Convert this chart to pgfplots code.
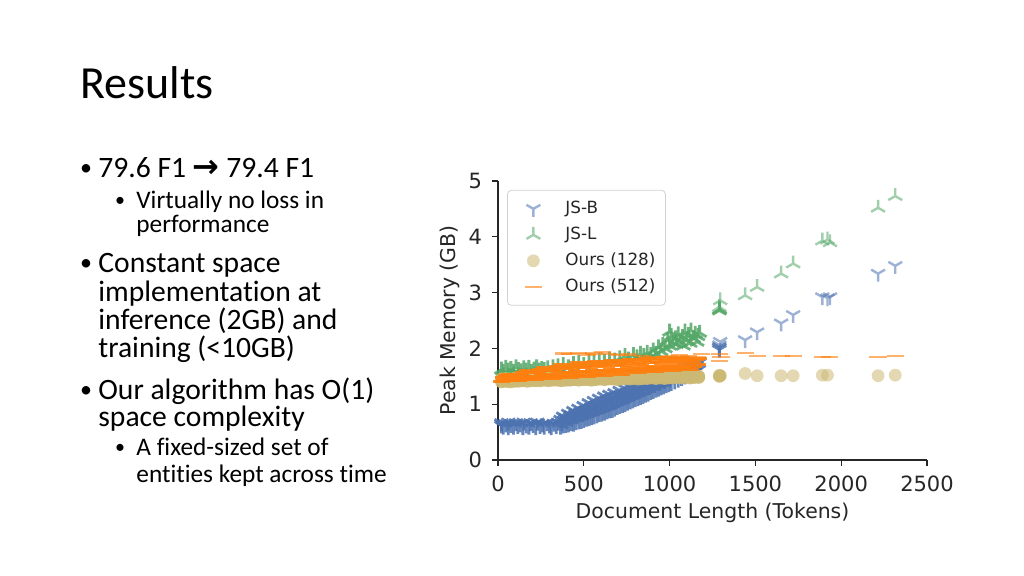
\documentclass[border=0pt]{standalone}
\usepackage{fontspec}
\setmainfont{Carlito}[Ligatures=NoCommon]
\newfontfamily\dejavu{DejaVu Sans}
\usepackage{pgfplots}
\pgfplotsset{compat=1.18}
\usetikzlibrary{plotmarks}

\definecolor{sbblue}{HTML}{4C72B0}
\definecolor{sbgreen}{HTML}{55A868}
\definecolor{sbtan}{HTML}{CCB974}
\definecolor{sborange}{HTML}{FF7F0E}
\definecolor{spine}{HTML}{262626}

\pgfplotsset{legimg/.style={legend image code/.code={%
    \path[draw=none,fill=none] (0pt,-3pt) rectangle (24pt,3pt);
    \draw[##1] plot coordinates {(10pt,0pt)};}}}

\begin{document}
\begin{tikzpicture}[x=1pt,y=1pt]
\fill[white] (0,0) rectangle (512,-288);

% slide text (1px = 0.5pt)
\node[anchor=base west,inner sep=0,font=\fontsize{23}{28}\selectfont] at (40,-49.5) {Results};

\begin{scope}[every node/.style={inner sep=0,font=\fontsize{14.8}{17}\selectfont}]
\node[anchor=base west] at (49,-89) {79.6 F1 {\dejavu\bfseries\fontsize{16}{17}\selectfont →} 79.4 F1};
\node[anchor=base west] at (49,-136.5) {Constant space};
\node[anchor=base west] at (49,-150.75) {implementation at};
\node[anchor=base west] at (49,-165) {inference (2GB) and};
\node[anchor=base west] at (49,-179) {training (<10GB)};
\node[anchor=base west] at (49,-200) {Our algorithm has O(1)};
\node[anchor=base west] at (49,-213.5) {space complexity};
\end{scope}
\begin{scope}[every node/.style={inner sep=0,font=\fontsize{12}{12}\selectfont}]
\node[anchor=base] at (43,-88) {•};
\node[anchor=base] at (43,-135.5) {•};
\node[anchor=base] at (43,-199) {•};
\end{scope}
\begin{scope}[every node/.style={inner sep=0,font=\fontsize{12.65}{15}\selectfont}]
\node[anchor=base west] at (68,-104.5) {Virtually no loss in};
\node[anchor=base west] at (68,-116.5) {performance};
\node[anchor=base west] at (68,-228) {A fixed-sized set of};
\node[anchor=base west] at (68,-241.5) {entities kept across time};
\end{scope}
\begin{scope}[every node/.style={inner sep=0,font=\fontsize{10}{10}\selectfont}]
\node[anchor=base] at (60,-103.5) {•};
\node[anchor=base] at (60,-227) {•};
\end{scope}

\begin{axis}[
    at={(249pt,-230pt)}, anchor=south west,
    scale only axis, width=214.5pt, height=139.5pt,
    xmin=0, xmax=2500, ymin=0, ymax=5,
    axis x line*=bottom, axis y line*=left,
    axis line style={-, draw=spine, line width=0.7pt},
    xtick={0,500,...,2500}, ytick={0,1,2,3,4,5},
    xtick pos=bottom, ytick pos=left,
    tick align=outside, major tick length=3pt,
    tick style={draw=spine, line width=0.6pt},
    minor tick num=0,
    tick label style={font=\dejavu\fontsize{10.5}{12}\selectfont, text=spine},
    xticklabel style={yshift=-1.5pt},
    yticklabel style={xshift=-1.5pt},
    /pgf/number format/assume math mode=true,
    /pgf/number format/1000 sep={},
    xlabel={Document Length (Tokens)},
    ylabel={Peak Memory (GB)},
    label style={font=\dejavu\fontsize{10.2}{12}\selectfont, text=spine},
    xlabel style={yshift=1.5pt},
    ylabel style={yshift=-2.5pt},
    clip=false,
    legend cell align=left,
    legend style={at={(0.021,0.968)}, anchor=north west,
        font=\dejavu\fontsize{8.4}{10}\selectfont, text=spine,
        draw=black!18, rounded corners=2pt, fill=white, fill opacity=0.8, text opacity=1,
        inner xsep=3pt, inner ysep=3pt, row sep=0.5pt,
        nodes={text height=6.5pt, text depth=2pt}},
]

% JS-B
\addplot[only marks, forget plot, mark=Mercedes star flipped, mark size=4pt,
    mark options={draw=sbblue, line width=1.4pt, draw opacity=0.85}] coordinates {
(20,0.62) (20,0.66) (30,0.60) (45,0.64) (60,0.59) (60,0.67) (75,0.63) (90,0.60)
(105,0.66) (115,0.61) (130,0.64) (145,0.59) (150,0.67) (165,0.62) (180,0.60)
(190,0.66) (205,0.63) (220,0.59) (230,0.67) (245,0.61) (260,0.64) (270,0.60)
(285,0.66) (300,0.62) (310,0.59) (325,0.65) (340,0.61) (350,0.67)
(365,0.60) (365,0.72) (380,0.62) (380,0.78) (395,0.63) (395,0.75) (410,0.64) (410,0.83)
(425,0.66) (425,0.80) (440,0.65) (440,0.88) (455,0.68) (455,0.84) (470,0.69) (470,0.92)
(485,0.70) (485,0.87) (500,0.72) (500,0.97) (515,0.74) (515,0.90) (530,0.75) (530,1.02)
(545,0.77) (545,0.95) (560,0.78) (560,1.06) (575,0.80) (575,0.99) (590,0.82) (590,1.10)
(605,0.83) (605,1.03) (620,0.85) (620,1.14) (635,0.87) (635,1.07) (650,0.89) (650,1.17)
(665,0.90) (665,1.10) (680,0.92) (680,1.20) (695,0.95) (695,1.13) (710,0.97) (710,1.24)
(725,0.99) (725,1.17) (740,1.00) (740,1.28) (755,1.03) (755,1.20) (770,1.05) (770,1.31)
(785,1.07) (785,1.23) (800,1.09) (800,1.35) (815,1.11) (815,1.27) (830,1.13) (830,1.38)
(845,1.15) (845,1.30) (860,1.17) (860,1.41) (875,1.19) (875,1.34) (890,1.22) (890,1.44)
(905,1.24) (905,1.37) (920,1.26) (920,1.47) (935,1.28) (935,1.40) (950,1.30) (950,1.50)
(965,1.32) (965,1.44) (980,1.34) (980,1.52) (995,1.36) (995,1.48) (1010,1.38) (1010,1.55)
(1030,1.41) (1030,1.58) (1050,1.44) (1050,1.60) (1070,1.47) (1070,1.62) (1090,1.50) (1090,1.65)
(1110,1.53) (1110,1.68) (1130,1.56) (1130,1.70) (1150,1.58) (1150,1.72) (1170,1.62) (1170,1.74)
(372,0.66) (387,0.71) (402,0.70) (417,0.76) (432,0.74) (447,0.80) (462,0.78) (477,0.84)
(492,0.82) (507,0.88) (522,0.86) (537,0.92) (552,0.90) (567,0.96) (582,0.93) (597,0.99)
(612,0.97) (627,1.03) (642,1.01) (657,1.07) (672,1.05) (687,1.10) (702,1.08) (717,1.14)
(732,1.12) (747,1.18) (762,1.16) (777,1.21) (792,1.19) (807,1.25) (822,1.23) (837,1.29)
(852,1.27) (867,1.33) (882,1.31) (897,1.36) (912,1.34) (927,1.40) (942,1.38) (957,1.43)
(972,1.42) (987,1.46) (1002,1.45) (1020,1.50) (1040,1.52) (1060,1.55) (1080,1.57)
(1100,1.60) (1120,1.62) (1140,1.65) (1160,1.67)
(1290,1.98) (1290,2.02)
};
\addplot[only marks, legimg, mark=Mercedes star flipped, mark size=4pt,
    mark options={draw=sbblue, line width=1.2pt, draw opacity=0.55}] coordinates {
(1290,2.06) (1295,2.12) (1440,2.15) (1510,2.29) (1650,2.45)
(1720,2.60) (1890,2.92) (1920,2.90) (1935,2.92) (2215,3.34) (2315,3.48)
};
\addlegendentry{JS-B}

% JS-L
\addplot[only marks, forget plot, mark=Mercedes star, mark size=4pt,
    mark options={draw=sbgreen, line width=1.4pt, draw opacity=0.85}] coordinates {
(20,1.62) (30,1.58) (45,1.65) (60,1.60) (75,1.63) (90,1.58) (105,1.66) (120,1.61)
(135,1.59) (150,1.64) (165,1.60) (180,1.65) (195,1.58) (210,1.62) (225,1.66) (240,1.60)
(255,1.63) (270,1.61) (290,1.64) (320,1.66) (350,1.68) (380,1.70) (410,1.66) (440,1.72)
(470,1.74) (500,1.70) (530,1.76) (560,1.74) (590,1.78) (620,1.76) (650,1.80) (680,1.78)
(710,1.82) (740,1.86) (760,1.80) (790,1.88) (810,1.84) (830,1.90) (850,1.86) (870,1.92)
(890,1.88) (905,1.96) (920,1.90) (935,2.02) (950,1.95) (960,2.06) (975,2.00) (990,2.15)
(1000,2.05) (1010,2.22) (1020,2.10) (1035,2.18) (1050,2.25) (1060,2.12) (1075,2.20)
(1090,2.30) (1100,2.15) (1110,2.24) (1125,2.32) (1140,2.18) (1150,2.26) (1165,2.22)
(1175,2.28) (1000,2.30) (1040,2.08) (1080,2.05) (1120,2.10) (1160,2.12)
(1290,2.68) (1292,2.70)
};
\addplot[only marks, legimg, mark=Mercedes star, mark size=4pt,
    mark options={draw=sbgreen, line width=1.2pt, draw opacity=0.55}] coordinates {
(1290,2.74) (1295,2.86) (1440,2.95) (1510,3.10) (1650,3.34)
(1720,3.52) (1890,3.93) (1920,3.95) (1935,3.90) (2215,4.52) (2315,4.73)
};
\addlegendentry{JS-L}

% Ours (128)
\addplot[only marks, forget plot, color=sbtan, mark=*, mark size=3.2pt,
    mark options={sbtan, draw opacity=0, fill opacity=0.9}] coordinates {
(20,1.40) (20,1.45) (45,1.41) (45,1.46) (70,1.40) (70,1.45) (95,1.41) (95,1.46)
(120,1.41) (120,1.47) (145,1.42) (145,1.46) (170,1.41) (170,1.47) (195,1.42) (195,1.47)
(220,1.42) (220,1.46) (245,1.42) (245,1.47) (270,1.43) (270,1.47) (295,1.42) (295,1.48)
(320,1.43) (320,1.47) (345,1.43) (345,1.48) (370,1.42) (370,1.47) (395,1.43) (395,1.48)
(420,1.43) (420,1.49) (445,1.44) (445,1.48) (470,1.43) (470,1.48) (495,1.44) (495,1.49)
(520,1.44) (520,1.48) (545,1.43) (545,1.49) (570,1.44) (570,1.49) (595,1.45) (595,1.49)
(620,1.44) (620,1.50) (645,1.45) (645,1.49) (670,1.45) (670,1.50) (695,1.44) (695,1.49)
(720,1.45) (720,1.50) (745,1.46) (745,1.50) (770,1.45) (770,1.49) (795,1.46) (795,1.50)
(820,1.45) (820,1.51) (845,1.46) (845,1.50) (870,1.46) (870,1.51) (895,1.47) (895,1.50)
(920,1.46) (920,1.51) (945,1.47) (945,1.50) (970,1.46) (970,1.51) (995,1.47) (995,1.51)
(1020,1.47) (1020,1.50) (1045,1.48) (1045,1.51) (1070,1.47) (1070,1.51) (1095,1.48) (1095,1.50)
(1120,1.47) (1120,1.51) (1145,1.48) (1145,1.51) (1170,1.48) (1170,1.50)
(1290,1.50) (1295,1.51)
};
\addplot[only marks, legimg, color=sbtan, mark=*, mark size=3.2pt,
    mark options={sbtan, draw opacity=0, fill opacity=0.55}] coordinates {
(1290,1.52) (1440,1.55) (1510,1.51) (1650,1.51) (1720,1.51)
(1890,1.52) (1920,1.52) (2215,1.51) (2315,1.52)
};
\addlegendentry{Ours (128)}

% Ours (512)
\addplot[only marks, forget plot, mark=-, mark size=4.3pt,
    mark options={draw=sborange, line width=1.5pt, draw opacity=0.9}] coordinates {
(20,1.40) (30,1.47) (40,1.43) (50,1.52) (60,1.46) (70,1.54) (80,1.43) (90,1.51)
(100,1.46) (110,1.53) (120,1.42) (130,1.52) (140,1.46) (150,1.57) (160,1.50) (170,1.60)
(180,1.45) (190,1.56) (200,1.49) (210,1.59) (220,1.44) (230,1.56) (240,1.49) (250,1.62)
(260,1.53) (270,1.65) (280,1.48) (290,1.60) (300,1.52) (310,1.63) (320,1.46) (330,1.60)
(340,1.51) (350,1.68) (360,1.57) (370,1.71) (380,1.50) (390,1.65) (400,1.56) (410,1.68)
(420,1.48) (430,1.64) (440,1.54) (450,1.72) (460,1.59) (470,1.74) (480,1.52) (490,1.67)
(500,1.58) (510,1.70) (520,1.50) (530,1.66) (540,1.56) (550,1.74) (560,1.61) (570,1.76)
(580,1.54) (590,1.69) (600,1.60) (610,1.72) (620,1.52) (630,1.68) (640,1.58) (650,1.76)
(660,1.63) (670,1.78) (680,1.56) (690,1.71) (700,1.62) (710,1.74) (720,1.54) (730,1.70)
(740,1.60) (750,1.78) (760,1.65) (770,1.80) (780,1.58) (790,1.73) (800,1.64) (810,1.76)
(820,1.56) (830,1.72) (840,1.62) (850,1.80) (860,1.67) (870,1.82) (880,1.60) (890,1.75)
(900,1.66) (910,1.78) (920,1.58) (930,1.74) (940,1.64) (950,1.82) (960,1.69) (970,1.84)
(980,1.62) (990,1.77) (1000,1.68) (1010,1.80) (1020,1.60) (1030,1.75) (1040,1.65) (1050,1.82)
(1060,1.70) (1070,1.84) (1080,1.64) (1090,1.77) (1100,1.68) (1110,1.79) (1120,1.62) (1130,1.74)
(1140,1.67) (1150,1.80) (1160,1.71) (1170,1.82)
};
\addplot[only marks, legimg, mark=-, mark size=4.3pt,
    mark options={draw=sborange, line width=1.1pt, draw opacity=0.6}] coordinates {
(380,1.91) (420,1.90) (470,1.92) (520,1.89) (560,1.91) (610,1.93) (650,1.90) (700,1.88)
(760,1.89) (840,1.87) (900,1.85) (1000,1.86) (1060,1.88) (1110,1.86) (1160,1.85) (1185,1.90)
(1290,1.90) (1290,1.78) (1300,1.85) (1440,1.92) (1510,1.87) (1650,1.87) (1720,1.87)
(1890,1.84) (1930,1.84) (2215,1.84) (2315,1.86)
};
\addlegendentry{Ours (512)}

\end{axis}
\end{tikzpicture}
\end{document}
